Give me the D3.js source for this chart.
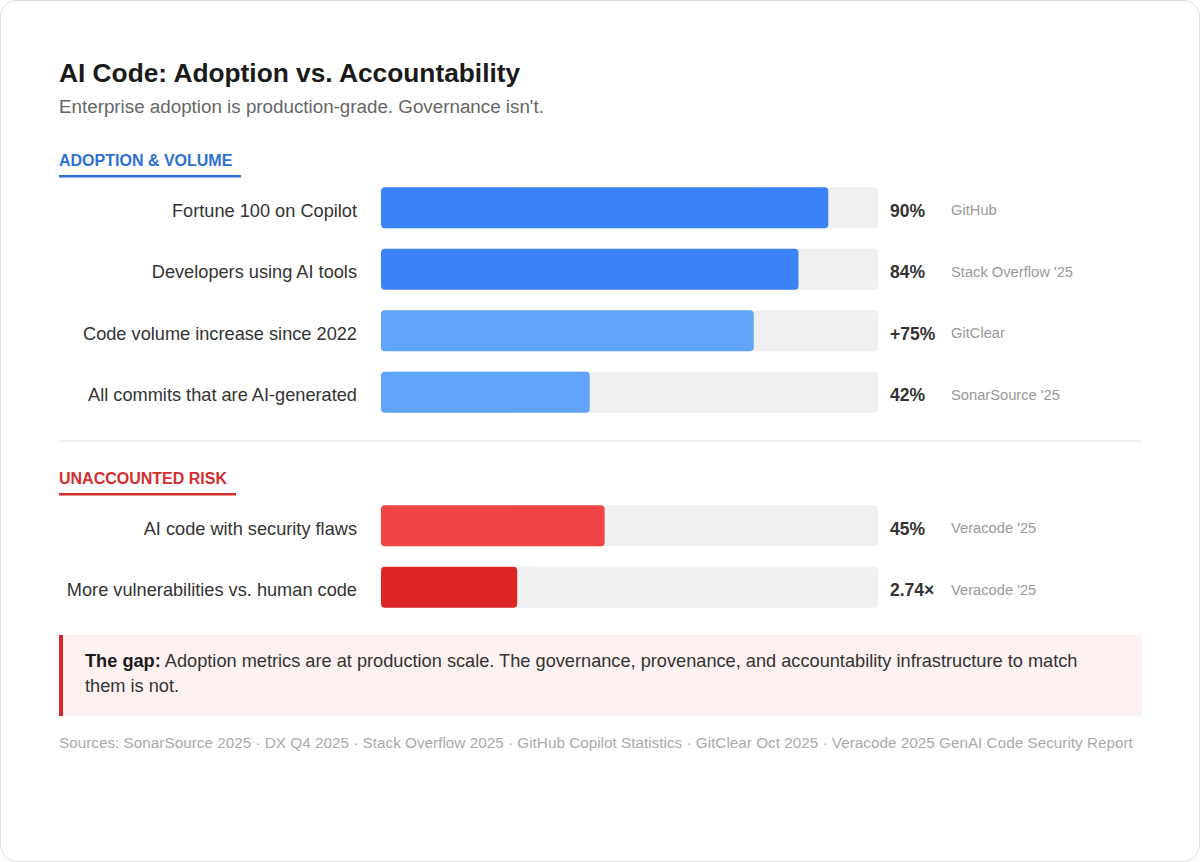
<!DOCTYPE html>
<html><head><meta charset="utf-8">
<script src="https://cdn.jsdelivr.net/npm/d3@7"></script>
<style>
html,body{margin:0;padding:0;background:#fff;}
svg{display:block;font-family:"Liberation Sans",Arial,Helvetica,sans-serif;}
</style></head><body>
<div id="chart"></div>
<script>
// ---- data ----
const adoptionLabels = ["Fortune 100 on Copilot","Developers using AI tools","Code volume increase since 2022","All commits that are AI-generated"];
const adoptionValues = [90, 84, 75, 42];
const adoptionText = ["90%","84%","+75%","42%"];
const adoptionSources = ["GitHub","Stack Overflow '25","GitClear","SonarSource '25"];
const riskLabels = ["AI code with security flaws","More vulnerabilities vs. human code"];
const riskValues = [45, 27.4];
const riskText = ["45%","2.74\u00d7"];
const riskSources = ["Veracode '25","Veracode '25"];
const adoptionColors = ["#3b82f6","#3b82f6","#60a5fa","#60a5fa"];
const riskColors = ["#ef4444","#dc2626"];

const W = 1200, H = 862;
const svg = d3.select("#chart").append("svg").attr("width", W).attr("height", H);

svg.append("rect").attr("x",0.5).attr("y",0.5).attr("width",W-1).attr("height",H-1)
  .attr("rx",16).attr("fill","#fff").attr("stroke","#dcdcdc");

svg.append("text").attr("x",59).attr("y",82).attr("font-size",26.3).attr("font-weight","bold")
  .attr("fill","#1a1a1a").text("AI Code: Adoption vs. Accountability");
svg.append("text").attr("x",59).attr("y",113).attr("font-size",18.8)
  .attr("fill","#666").text("Enterprise adoption is production-grade. Governance isn't.");

const x = d3.scaleLinear().domain([0,100]).range([381,878]);

function section(title, color, titleY, underlineW, labels, values, texts, sources, colors, y0) {
  svg.append("text").attr("x",59).attr("y",titleY).attr("font-size",16).attr("font-weight","bold")
    .attr("fill",color).text(title);
  svg.append("rect").attr("x",59).attr("y",titleY+9).attr("width",underlineW).attr("height",2.5).attr("fill",color);
  const y = d3.scaleBand().domain(labels).range([y0, y0 + labels.length*61.5]).paddingInner(0.33).paddingOuter(0.165);
  const g = svg.append("g");
  const row = g.selectAll("g").data(labels).join("g");
  row.append("rect").attr("x",x(0)).attr("y",d=>y(d)).attr("width",x(100)-x(0)).attr("height",y.bandwidth())
    .attr("rx",4).attr("fill","#f0f0f0");
  row.append("rect").attr("x",x(0)).attr("y",d=>y(d)).attr("width",(d,i)=>x(values[i])-x(0)).attr("height",y.bandwidth())
    .attr("rx",4).attr("fill",(d,i)=>colors[i]);
  row.append("text").attr("x",357).attr("y",d=>y(d)+y.bandwidth()/2+1.8).attr("dy","0.4em")
    .attr("text-anchor","end").attr("font-size",18.2).attr("fill","#333").text(d=>d);
  row.append("text").attr("x",890).attr("y",d=>y(d)+y.bandwidth()/2+1.8).attr("dy","0.4em")
    .attr("font-size",17.5).attr("font-weight","bold").attr("fill","#333").text((d,i)=>texts[i]);
  row.append("text").attr("x",951).attr("y",d=>y(d)+y.bandwidth()/2+1.8).attr("dy","0.4em")
    .attr("font-size",14.7).attr("fill","#999").text((d,i)=>sources[i]);
}

section("ADOPTION & VOLUME","#2f6fd6",166,182,adoptionLabels,adoptionValues,adoptionText,adoptionSources,adoptionColors,177);
svg.append("line").attr("x1",59).attr("x2",1142).attr("y1",441).attr("y2",441).attr("stroke","#e5e5e5");
section("UNACCOUNTED RISK","#d32f2f",484,177,riskLabels,riskValues,riskText,riskSources,riskColors,495);

// callout
svg.append("rect").attr("x",59).attr("y",635).attr("width",1083).attr("height",81).attr("rx",3).attr("fill","#fdf1f1");
svg.append("rect").attr("x",59).attr("y",635).attr("width",4).attr("height",81).attr("fill","#dc2626");
const ct = svg.append("text").attr("x",85).attr("y",667).attr("font-size",18.2).attr("fill","#333");
ct.append("tspan").attr("font-weight","bold").attr("fill","#1a1a1a").text("The gap:");
ct.append("tspan").text(" Adoption metrics are at production scale. The governance, provenance, and accountability infrastructure to match");
svg.append("text").attr("x",85).attr("y",692).attr("font-size",18.2).attr("fill","#333").text("them is not.");

svg.append("text").attr("x",59).attr("y",748).attr("font-size",15.3).attr("fill","#aaa")
  .text("Sources: SonarSource 2025 \u00b7 DX Q4 2025 \u00b7 Stack Overflow 2025 \u00b7 GitHub Copilot Statistics \u00b7 GitClear Oct 2025 \u00b7 Veracode 2025 GenAI Code Security Report");
</script></body></html>
